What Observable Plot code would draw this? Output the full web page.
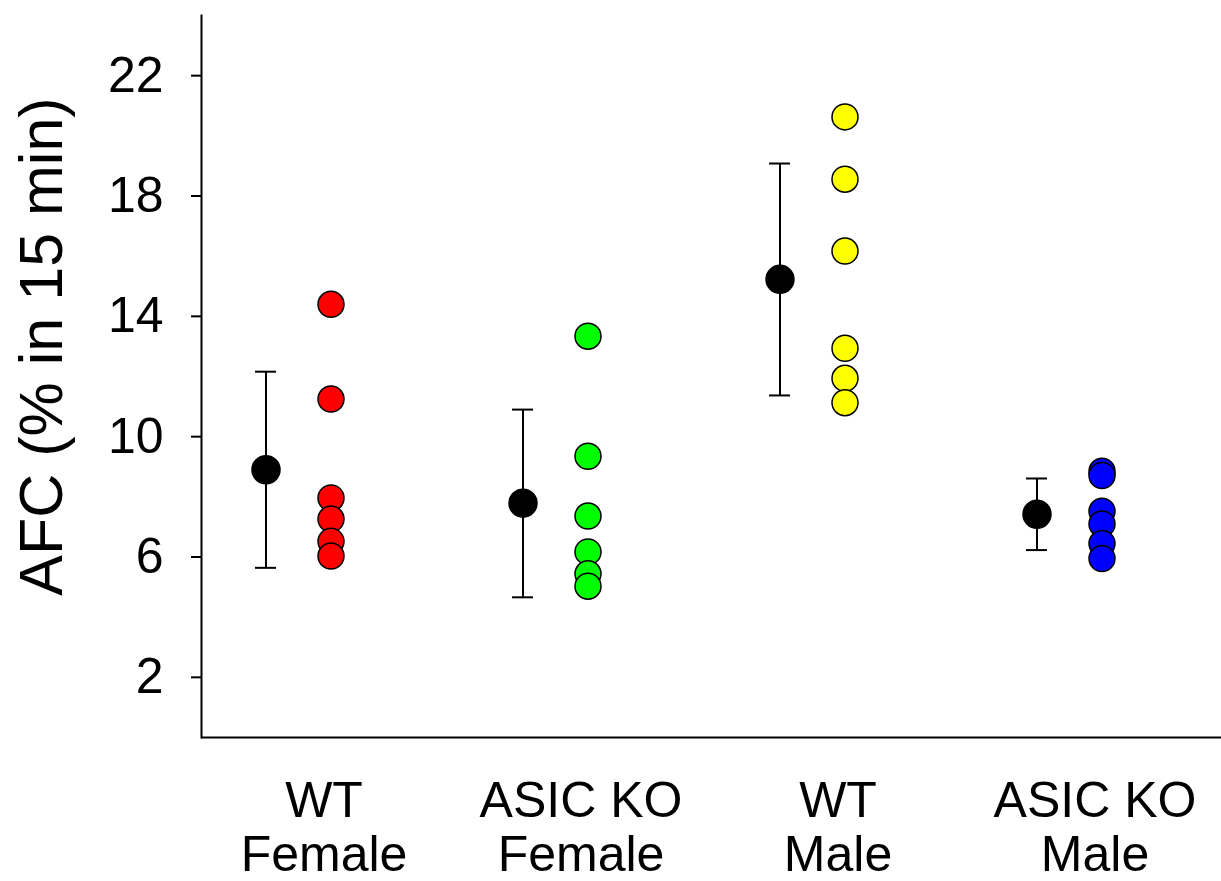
<!DOCTYPE html>
<html>
<head>
<meta charset="utf-8">
<script src="https://cdn.jsdelivr.net/npm/d3@7"></script>
<script src="https://cdn.jsdelivr.net/npm/@observablehq/plot@0.6"></script>
<style>
  html, body { margin: 0; padding: 0; background: #ffffff; }
  #chart svg { display: block; }
</style>
</head>
<body>
<div id="chart"></div>
<script>
// ---- data ----
const groups = ["WT Female", "ASIC KO Female", "WT Male", "ASIC KO Male"];
const tickLabels = ["WT\nFemale", "ASIC KO\nFemale", "WT\nMale", "ASIC KO\nMale"];
const colors = ["#ff0000", "#00ff00", "#ffff00", "#0000ff"];
const means = [8.90, 7.79, 15.23, 7.42];
const errHigh = [12.16, 10.90, 19.08, 8.61];
const errLow = [5.64, 4.66, 11.37, 6.23];
const wtFemale = [14.40, 11.25, 7.96, 7.26, 6.52, 6.03];
const koFemale = [13.34, 9.35, 7.36, 6.17, 5.44, 5.03];
const wtMale = [20.63, 18.56, 16.17, 12.94, 11.94, 11.13];
const koMale = [8.85, 8.71, 7.52, 7.10, 6.45, 5.95];
const yTicks = [2, 6, 10, 14, 18, 22];
const yLabel = "AFC (% in 15 min)";

// ---- tables built from the arrays ----
const summary = groups.map((g, i) => ({group: g, mean: means[i], hi: errHigh[i], lo: errLow[i]}));
const pointSets = [wtFemale, koFemale, wtMale, koMale];
const points = pointSets.flatMap((vals, i) => vals.map(v => ({group: groups[i], value: v, color: colors[i]})));

const font = "'Liberation Sans', Arial, Helvetica, sans-serif";

const chart = Plot.plot({
  width: 1221,
  height: 881,
  marginLeft: 201,
  marginRight: 0,
  marginTop: 15,
  marginBottom: 144,
  style: {fontFamily: font, background: "#ffffff", color: "#000000", overflow: "visible"},
  x: {type: "band", domain: groups, range: [169, 1197], padding: 0},
  y: {domain: [0, 24]},
  marks: [
    Plot.frame({anchor: "left", stroke: "#000", strokeWidth: 2}),
    Plot.ruleY([0], {stroke: "#000", strokeWidth: 2}),
    Plot.axisY({ticks: yTicks, tickSize: 10, tickPadding: 28, fontSize: 50, label: null, strokeWidth: 2}),
    Plot.axisX({tickSize: 0, tickPadding: 41, fontSize: 50, lineHeight: 1.08, dx: 26, label: null,
      tickFormat: d => tickLabels[groups.indexOf(d)]}),
    Plot.text([yLabel], {frameAnchor: "left", rotate: -90, dx: -159, dy: -30, fontSize: 61,
      textAnchor: "middle", lineAnchor: "middle", fill: "#000"}),
    Plot.ruleX(summary, {x: "group", y1: "lo", y2: "hi", dx: -32, stroke: "#000", strokeWidth: 2}),
    Plot.tickY(summary, {x: "group", y: "hi", dx: -32, insetLeft: 118, insetRight: 118, stroke: "#000", strokeWidth: 2}),
    Plot.tickY(summary, {x: "group", y: "lo", dx: -32, insetLeft: 118, insetRight: 118, stroke: "#000", strokeWidth: 2}),
    Plot.dot(summary, {x: "group", y: "mean", dx: -32, r: 14, fill: "#000", stroke: "#000"}),
    Plot.dot(points, {x: "group", y: "value", dx: 33, r: 13, fill: "color", stroke: "#000", strokeWidth: 1.5})
  ]
});
document.getElementById("chart").append(chart);
</script>
</body>
</html>
